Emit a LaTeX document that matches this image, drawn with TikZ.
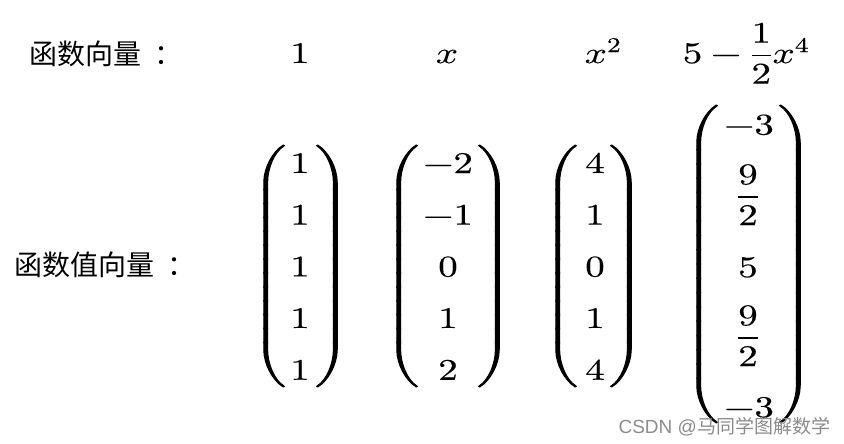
\documentclass[tikz,border=0pt]{standalone}
\usepackage{graphicx}
\usepackage{amsmath}
\usepackage{fontspec}
\usepackage{unicode-math}
\setmathfont{Latin Modern Math}
\newfontfamily\cjk{Noto Sans CJK SC}
\newfontfamily\wmlat{Liberation Sans}
\begin{document}
\begin{tikzpicture}[x=1pt,y=-1pt,
  every node/.style={inner sep=0pt,outer sep=0pt},
  lab/.style={font=\fontsize{28}{33}\cjk, anchor=base west},
  ent/.style={font=\fontsize{30}{36}\selectfont, anchor=base},
  par/.style={font=\fontsize{30}{36}\selectfont, anchor=center},
  wm/.style={font=\fontsize{19}{22}\cjk, text=black!45, anchor=base east}]
\useasboundingbox (0,0) rectangle (844,444);
\fill[white] (0,0) rectangle (844,444);
\newcommand{\boldon}[1]{\special{pdf:literal direct 0 0 0 RG #1 w 2 Tr}}
\newcommand{\boldoff}{\special{pdf:literal direct 0 Tr}}
\newcommand{\mm}[1]{\scalebox{1.3}[1]{\boldon{0.1}$\displaystyle #1$\boldoff}}
\newcommand{\pl}[1]{\scalebox{1.25}[1]{\boldon{0.85}\delimiterfactor=1000\delimitershortfall=0pt\nulldelimiterspace=0pt$\left(\vcenter{\hbox{\rule{0pt}{#1}}}\right.$\boldoff}}
\newcommand{\pr}[1]{\scalebox{1.25}[1]{\boldon{0.85}\delimiterfactor=1000\delimitershortfall=0pt\nulldelimiterspace=0pt$\left.\vcenter{\hbox{\rule{0pt}{#1}}}\right)$\boldoff}}
% labels
\node[lab] (l1) at (30,64.5) {函数向量\kern0.45em：};
\node[lab] (l2) at (15,275) {函数值向量\kern0.45em：};
% top row
\node[ent] (t1) at (300,63) {\mm{1}};
\node[ent] (t2) at (447,63) {\mm{x}};
\node[ent] (t3) at (603,63) {\mm{x^2}};
\node[ent] (t4) at (746,63) {\mm{5-\frac{1}{2}x^4}};
% column 1
\foreach \i/\y in {1/173,2/224.7,3/276.4,4/328,5/379.8}{
  \node[ent] (a\i) at (300,\y) {\mm{1}};
}
% column 2
\node[ent] (b1) at (448,173) {\mm{-2}};
\node[ent] (b2) at (448,224.7) {\mm{-1}};
\node[ent] (b3) at (448,276.4) {\mm{0}};
\node[ent] (b4) at (448,328) {\mm{1}};
\node[ent] (b5) at (448,379.8) {\mm{2}};
% column 3
\node[ent] (c1) at (595,173) {\mm{4}};
\node[ent] (c2) at (595,224.7) {\mm{1}};
\node[ent] (c3) at (595,276.4) {\mm{0}};
\node[ent] (c4) at (595,328) {\mm{1}};
\node[ent] (c5) at (595,379.8) {\mm{4}};
% column 4
\node[ent] (d1) at (749,134.5) {\mm{-3}};
\node[ent] (d2) at (748,204.5) {\mm{\frac{9}{2}}};
\node[ent] (d3) at (748,277) {\mm{5}};
\node[ent] (d4) at (748,345.5) {\mm{\frac{9}{2}}};
\node[ent] (d5) at (749,417) {\mm{-3}};
% parentheses
\node[par] (pa1) at (269.8,266) {\pl{242pt}};
\node[par] (pa2) at (331.2,266) {\pr{242pt}};
\node[par] (pb1) at (402.8,266) {\pl{242pt}};
\node[par] (pb2) at (493.2,266) {\pr{242pt}};
\node[par] (pc1) at (561.8,266) {\pl{242pt}};
\node[par] (pc2) at (625.2,266) {\pr{242pt}};
\node[par] (pd1) at (702.8,264) {\pl{318pt}};
\node[par] (pd2) at (794.2,264) {\pr{318pt}};
% watermark
\node[wm] (w) at (830,433) {{\wmlat CSDN @}马同学图解数学};
\end{tikzpicture}
\end{document}
